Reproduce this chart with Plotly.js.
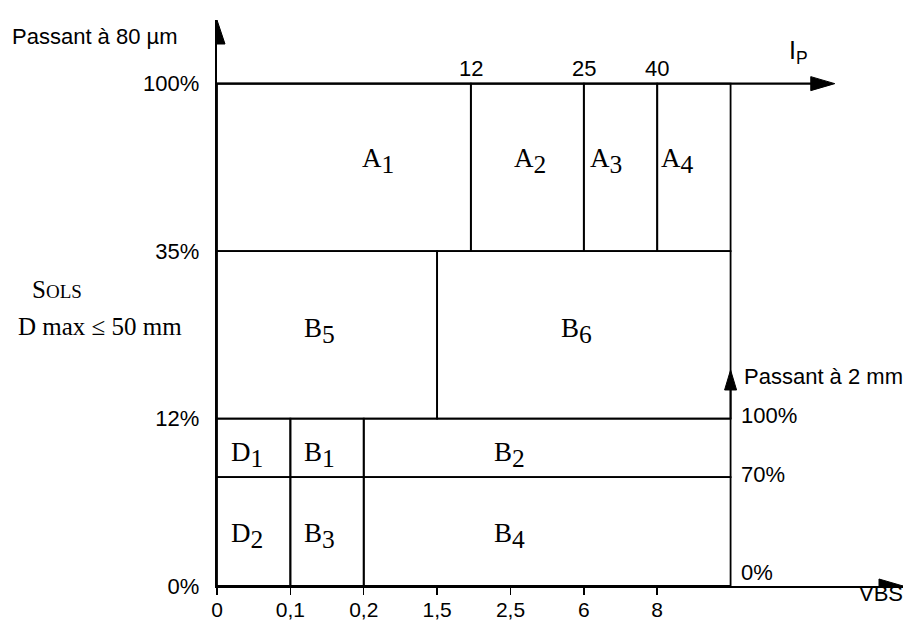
<!DOCTYPE html>
<html>
<head>
<meta charset="utf-8">
<script src="https://cdn.plot.ly/plotly-3.0.1.min.js"></script>
<style>html,body{margin:0;padding:0;background:#fff;}#chart{width:914px;height:625px;}</style>
</head>
<body>
<div id="chart"></div>
<script>
// ---- data ----
const vbsTicks = ['0', '0,1', '0,2', '1,5', '2,5', '6', '8'];        // bottom axis (VBS), equally spaced classes
const finesTicks = ['0%', '12%', '35%', '100%'];                      // left axis: passant à 80 µm
const ipTicks = ['12', '25', '40'];                                    // top axis: I_P
const ipAt = [3.46, 5, 6];                                             // where the I_P limits fall on the VBS class scale
const sandTicks = ['0%', '70%', '100%'];                               // right axis: passant à 2 mm
const sandAt = [0, 0.65, 1];

const zoneLetter = ['A', 'A', 'A', 'A', 'B', 'B', 'D', 'B', 'B', 'D', 'B', 'B'];
const zoneIndex  = ['1', '2', '3', '4', '5', '6', '1', '1', '2', '2', '3', '4'];
const zoneX0 = [0, 3.46, 5, 6, 0, 3, 0, 1, 2, 0, 1, 2];
const zoneX1 = [3.46, 5, 6, 7, 3, 7, 1, 2, 7, 1, 2, 7];
const zoneY0 = [2, 2, 2, 2, 1, 1, 0.65, 0.65, 0.65, 0, 0, 0];
const zoneY1 = [3, 3, 3, 3, 2, 2, 1, 1, 1, 0.65, 0.65, 0.65];
const labelX = [2.19, 4.27, 5.30, 6.28, 1.40, 4.90, 0.41, 1.40, 3.99, 0.41, 1.40, 3.99];
const labelY = [2.54, 2.54, 2.54, 2.54, 1.52, 1.52, 0.78, 0.78, 0.78, 0.30, 0.30, 0.30];

// ---- geometry of the frame ----
const XMAX = 9.35, YMAX = 3.38;
const L = 217, R = 11, T = 20, B = 39, W = 914, H = 625;
const pw = W - L - R, ph = H - T - B;
const px2paperX = p => (p - L) / pw;
const py2paperY = p => (H - B - p) / ph;

const SANS = 'Liberation Sans, Arial, sans-serif';
const SERIF = 'Liberation Serif, Times New Roman, serif';
const INK = '#000';

const shapes = [];
const annotations = [];

// zone rectangles
for (let i = 0; i < zoneLetter.length; i++) {
  shapes.push({type: 'rect', xref: 'x', yref: 'y', x0: zoneX0[i], x1: zoneX1[i], y0: zoneY0[i], y1: zoneY1[i],
               line: {color: INK, width: 1.8}, fillcolor: 'rgba(0,0,0,0)'});
  annotations.push({xref: 'x', yref: 'y', x: labelX[i], y: labelY[i], showarrow: false,
    text: zoneLetter[i] + '<sub><span style="font-size:135%">' + zoneIndex[i] + '</span></sub>',
    font: {family: SERIF, size: 27, color: INK}});
}

// I_P axis line (top) with arrow
const IPEND = 8.42;
shapes.push({type: 'line', xref: 'x', yref: 'y', x0: 0, x1: IPEND - 0.1, y0: 3, y1: 3, line: {color: INK, width: 2.2}});
shapes.push({type: 'path', xref: 'x', yref: 'y', xsizemode: 'pixel', ysizemode: 'pixel', xanchor: IPEND, yanchor: 3,
             path: 'M 0 0 L -24 7 L -24 -7 Z', fillcolor: INK, line: {color: INK, width: 1}});
// right vertical axis arrow (passant à 2 mm)
const SANDTIP = 1.29;
shapes.push({type: 'line', xref: 'x', yref: 'y', x0: 7, x1: 7, y0: 1, y1: SANDTIP - 0.05, line: {color: INK, width: 1.8}});
shapes.push({type: 'path', xref: 'x', yref: 'y', xsizemode: 'pixel', ysizemode: 'pixel', xanchor: 7, yanchor: SANDTIP,
             path: 'M 0 0 L -6 -20 L 6 -20 Z', fillcolor: INK, line: {color: INK, width: 1}});
// left axis arrow
shapes.push({type: 'path', xref: 'x', yref: 'y', xsizemode: 'pixel', ysizemode: 'pixel', xanchor: 0, yanchor: YMAX,
             path: 'M 0 0 L -8 -24 L 8 -24 Z', fillcolor: INK, line: {color: INK, width: 1}});
// bottom axis arrow
shapes.push({type: 'path', xref: 'x', yref: 'y', xsizemode: 'pixel', ysizemode: 'pixel', xanchor: XMAX, yanchor: 0,
             path: 'M 0 0 L -24 7 L -24 -7 Z', fillcolor: INK, line: {color: INK, width: 1}});

// I_P tick labels
for (let i = 0; i < ipTicks.length; i++) {
  annotations.push({xref: 'x', yref: 'y', x: ipAt[i], y: 3, yanchor: 'bottom', yshift: 1, showarrow: false,
                    text: ipTicks[i], font: {family: SANS, size: 22, color: INK}});
}
annotations.push({xref: 'x', yref: 'y', x: 7.93, y: 3.19, showarrow: false,
                  text: 'I<sub>P</sub>', font: {family: SANS, size: 25, color: INK}});

// right axis labels
for (let i = 0; i < sandTicks.length; i++) {
  annotations.push({xref: 'x', yref: 'y', x: 7, y: sandAt[i], xanchor: 'left', xshift: 8,
                    yshift: i === 0 ? 14 : 3, showarrow: false,
                    text: sandTicks[i], font: {family: SANS, size: 22, color: INK}});
}
annotations.push({xref: 'x', yref: 'y', x: 7, y: 1.25, xanchor: 'left', xshift: 11, showarrow: false,
                  text: 'Passant à 2 mm', font: {family: SANS, size: 22, color: INK}});

// axis titles and side text
annotations.push({xref: 'paper', yref: 'paper', x: px2paperX(10), y: py2paperY(22), xanchor: 'left', showarrow: false,
                  text: 'Passant à 80 µm', font: {family: SANS, size: 22, color: INK}});
annotations.push({xref: 'paper', yref: 'paper', x: px2paperX(905), y: py2paperY(608), xanchor: 'right', showarrow: false,
                  text: 'VBS', font: {family: SANS, size: 22, color: INK}});
annotations.push({xref: 'paper', yref: 'paper', x: px2paperX(30), y: py2paperY(290), xanchor: 'left', showarrow: false,
                  text: 'S<span style="font-size:19px">OLS</span>', font: {family: SERIF, size: 25, color: INK}});
annotations.push({xref: 'paper', yref: 'paper', x: px2paperX(16), y: py2paperY(326), xanchor: 'left', showarrow: false,
                  text: 'D max ≤ 50 mm', font: {family: SERIF, size: 25, color: INK}});

const layout = {
  width: W, height: H,
  margin: {l: L, r: R, t: T, b: B, pad: 0},
  paper_bgcolor: '#fff', plot_bgcolor: '#fff',
  showlegend: false,
  xaxis: {range: [0, XMAX], tickmode: 'array', tickvals: vbsTicks.map((_, i) => i), ticktext: vbsTicks,
          showgrid: false, zeroline: false, showline: true, linecolor: INK, linewidth: 2.2,
          ticks: 'outside', ticklen: 7, tickwidth: 1.5, tickcolor: INK, ticklabelstandoff: -3,
          tickfont: {family: SANS, size: 21, color: INK}, fixedrange: true},
  yaxis: {range: [0, YMAX], tickmode: 'array', tickvals: finesTicks.map((_, i) => i), ticktext: finesTicks,
          showgrid: false, zeroline: false, showline: true, linecolor: INK, linewidth: 2.2,
          ticks: '', ticklabelstandoff: 11,
          tickfont: {family: SANS, size: 22, color: INK}, fixedrange: true},
  shapes: shapes,
  annotations: annotations
};

Plotly.newPlot('chart', [{x: [], y: [], type: 'scatter', mode: 'markers', hoverinfo: 'skip'}], layout,
               {displayModeBar: false, staticPlot: true});
</script>
</body>
</html>
